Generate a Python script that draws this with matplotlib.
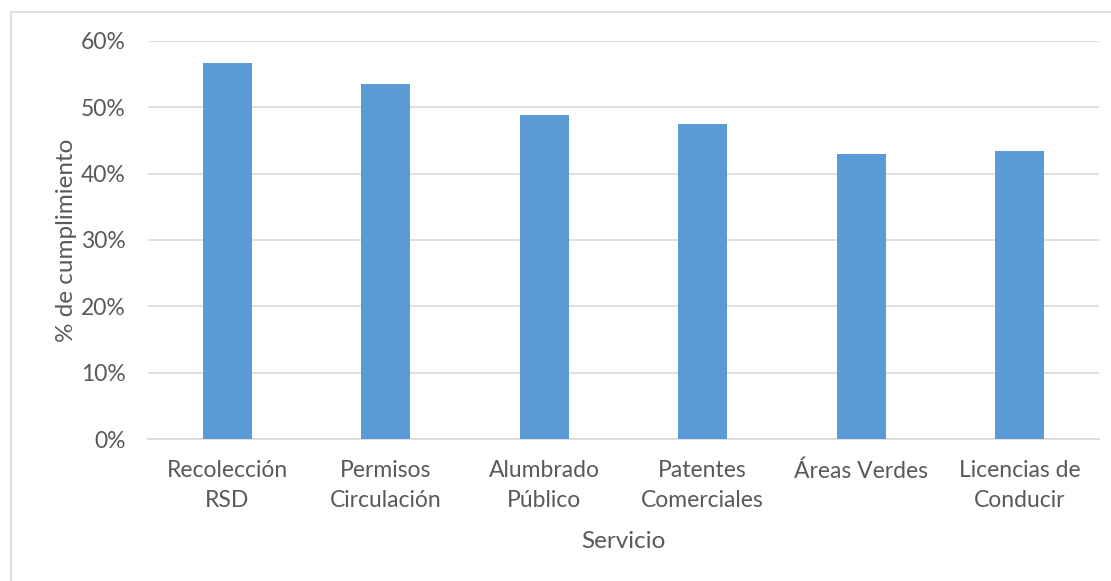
import matplotlib
matplotlib.use("Agg")
import matplotlib.pyplot as plt
from matplotlib.patches import Rectangle
from matplotlib.ticker import FuncFormatter

categories = ["Recolección\nRSD", "Permisos\nCirculación", "Alumbrado\nPúblico",
              "Patentes\nComerciales", "Áreas Verdes", "Licencias de\nConducir"]
values = [0.566, 0.535, 0.488, 0.474, 0.429, 0.434]
yticks = [0.0, 0.1, 0.2, 0.3, 0.4, 0.5, 0.6]

plt.rcParams['font.family'] = ['Lato', 'DejaVu Sans']
txt = '#595959'
W, H = 1111, 581
fig = plt.figure(figsize=(W/100, H/100), dpi=100)
ax = fig.add_axes([148/W, 1 - 439.3/H, (1099-148)/W, (439.3-40.7)/H])

x = list(range(len(categories)))
ax.bar(x, values, width=0.31, color='#5b9bd5', zorder=3)
ax.set_xlim(-0.5, len(categories) - 0.5)
ax.set_ylim(0, 0.6)
ax.set_yticks(yticks)
ax.yaxis.set_major_formatter(FuncFormatter(lambda v, p: f"{v*100:.0f}%"))
ax.grid(axis='y', color='#d9d9d9', linewidth=1.2, zorder=0)
for s in ['top', 'right', 'left']:
    ax.spines[s].set_visible(False)
ax.spines['bottom'].set_color('#d9d9d9')
ax.spines['bottom'].set_linewidth(1.2)
ax.tick_params(axis='both', length=0, labelsize=16.5, colors=txt)
ax.tick_params(axis='x', pad=15)
ax.tick_params(axis='y', pad=16)
ax.set_xticks(x)
ax.set_xticklabels(categories, linespacing=1.55)
ax.set_ylabel("% de cumplimiento", fontsize=17.5, color=txt, labelpad=3)
ax.set_xlabel("Servicio", fontsize=17.5, color=txt, labelpad=14)

fig.patches.append(Rectangle((10.5/W, -0.1), 1.2, 1 - 11.5/H + 0.1, transform=fig.transFigure,
                             fill=False, edgecolor='#d9d9d9', linewidth=1.2))
fig.savefig("out.png", dpi=100)
